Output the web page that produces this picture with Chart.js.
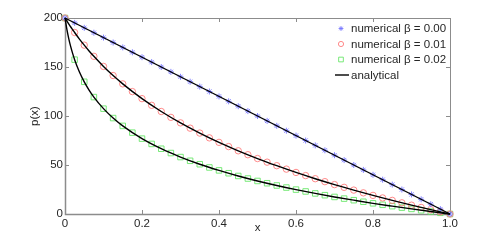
<!DOCTYPE html>
<html>
<head>
<meta charset="utf-8">
<script src="https://cdn.jsdelivr.net/npm/chart.js@4.4.1/dist/chart.umd.min.js"></script>
<style>
  html, body { margin: 0; padding: 0; background: #fff; }
  #wrap { width: 498px; height: 242px; }
</style>
</head>
<body>
<div id="wrap"><canvas id="chart"></canvas></div>
<script>
// numerical solution, x grid
const xNum = [0, 0.025, 0.05, 0.075, 0.1, 0.125, 0.15, 0.175, 0.2, 0.225, 0.25, 0.275, 0.3, 0.325, 0.35,
    0.375, 0.4, 0.425, 0.45, 0.475, 0.5, 0.525, 0.55, 0.575, 0.6, 0.625, 0.65, 0.675, 0.7, 0.725, 0.75,
    0.775, 0.8, 0.825, 0.85, 0.875, 0.9, 0.925, 0.95, 0.975, 1];
const numBeta000 = [200, 195, 190, 185, 180, 175, 170, 165, 160, 155, 150, 145, 140, 135, 130, 125, 120,
    115, 110, 105, 100, 95, 90, 85, 80, 75, 70, 65, 60, 55, 50, 45, 40, 35, 30, 25, 20, 15, 10, 5, 0];
const numBeta001 = [200, 185.2, 172.3, 160.9, 150.6, 141.3, 132.8, 124.9, 117.7, 110.9, 104.6, 98.6, 93.0,
    87.6, 82.6, 77.7, 73.1, 68.8, 64.5, 60.5, 56.6, 52.9, 49.3, 45.8, 42.4, 39.2, 36.0, 33.0, 30.0, 27.2,
    24.4, 21.6, 19.0, 16.4, 13.9, 11.4, 9.0, 6.7, 4.4, 2.2, 0];
const numBeta002 = [200, 157.5, 134.9, 119.3, 107.5, 97.9, 89.9, 83.0, 76.9, 71.5, 66.6, 62.2, 58.1, 54.3,
    50.8, 47.5, 44.5, 41.6, 38.8, 36.2, 33.7, 31.4, 29.1, 27.0, 24.9, 23.0, 21.0, 19.2, 17.4, 15.7, 14.1,
    12.5, 10.9, 9.4, 8.0, 6.5, 5.2, 3.8, 2.5, 1.2, 0];

// analytical curves (denser near x = 0)
const xAnaLin = [0, 1];
const anaBeta000 = [200, 0];
const xAna = [0, 0.005, 0.01, 0.015, 0.02, 0.025, 0.0375, 0.05, 0.0625, 0.075, 0.1, 0.125, 0.15, 0.2, 0.25,
    0.3, 0.35, 0.4, 0.45, 0.5, 0.55, 0.6, 0.65, 0.7, 0.75, 0.8, 0.85, 0.9, 0.95, 1];
const anaBeta001 = [200, 196.9, 193.8, 190.8, 188.0, 185.2, 178.5, 172.3, 166.4, 160.9, 150.6, 141.3, 132.8,
    117.7, 104.6, 93.0, 82.6, 73.1, 64.5, 56.6, 49.3, 42.4, 36.0, 30.0, 24.4, 19.0, 13.9, 9.0, 4.4, 0];
const anaBeta002 = [200, 188.1, 178.5, 170.5, 163.6, 157.5, 144.9, 134.9, 126.5, 119.3, 107.5, 97.9, 89.9,
    76.9, 66.6, 58.1, 50.8, 44.5, 38.8, 33.7, 29.1, 24.9, 21.0, 17.4, 14.1, 10.9, 8.0, 5.2, 2.5, 0];

const xTicks = [0, 0.2, 0.4, 0.6, 0.8, 1];
const yTicks = [0, 50, 100, 150, 200];

const FONT = "'Liberation Sans', Arial, Helvetica, sans-serif";
const TEXT = '#262626';
const AXIS = '#8c8c8c';

function toPoints(xs, ys) {
    return xs.map((x, i) => ({ x: x, y: ys[i] }));
}

function numerical(label, ys, style, color, radius) {
    return {
        label: label,
        data: toPoints(xNum, ys),
        showLine: false,
        pointStyle: style,
        pointRadius: radius,
        pointBorderColor: color,
        pointBackgroundColor: 'rgba(0,0,0,0)',
        pointBorderWidth: 0.9,
        clip: false,
        order: 2
    };
}

function analytical(xs, ys) {
    return {
        label: 'analytical',
        data: toPoints(xs, ys),
        showLine: true,
        borderColor: '#000',
        borderWidth: 1.4,
        pointRadius: 0,
        cubicInterpolationMode: 'monotone',
        clip: false,
        order: 1
    };
}

// box around the plot with inward ticks (matlab style)
const boxPlugin = {
    id: 'box',
    beforeDatasetsDraw(chart) {
        const { ctx, chartArea: a, scales } = chart;
        ctx.save();
        ctx.strokeStyle = AXIS;
        ctx.lineWidth = 1;
        ctx.strokeRect(a.left + 0.5, a.top + 0.5, a.right - a.left, a.bottom - a.top);
        ctx.lineWidth = 1.5;
        ctx.beginPath();
        ctx.moveTo(a.left + 0.5, a.top);
        ctx.lineTo(a.left + 0.5, a.bottom + 0.5);
        ctx.lineTo(a.right + 0.5, a.bottom + 0.5);
        ctx.stroke();
        ctx.lineWidth = 1;
        ctx.beginPath();
        xTicks.forEach(v => {
            const px = Math.round(scales.x.getPixelForValue(v)) + 0.5;
            ctx.moveTo(px, a.bottom); ctx.lineTo(px, a.bottom - 4);
            ctx.moveTo(px, a.top); ctx.lineTo(px, a.top + 4);
        });
        yTicks.forEach(v => {
            const py = Math.round(scales.y.getPixelForValue(v)) + 0.5;
            ctx.moveTo(a.left, py); ctx.lineTo(a.left + 4, py);
            ctx.moveTo(a.right, py); ctx.lineTo(a.right - 4, py);
        });
        ctx.stroke();
        ctx.restore();
    }
};

// legend inside the plot, top right
const legendPlugin = {
    id: 'innerLegend',
    afterDatasetsDraw(chart) {
        const { ctx } = chart;
        const ds = chart.data.datasets;
        const rows = [ds[0], ds[1], ds[2], ds[3]];
        ctx.save();
        ctx.font = '11.5px ' + FONT;
        ctx.textBaseline = 'middle';
        ctx.textAlign = 'left';
        rows.forEach((d, i) => {
            const y = 28.5 + i * 15.5;
            if (d.showLine) {
                ctx.strokeStyle = '#000';
                ctx.lineWidth = 1.4;
                ctx.beginPath();
                ctx.moveTo(335, y);
                ctx.lineTo(349, y);
                ctx.stroke();
            } else {
                ctx.strokeStyle = d.pointBorderColor;
                ctx.fillStyle = 'rgba(0,0,0,0)';
                ctx.lineWidth = d.pointBorderWidth;
                Chart.helpers.drawPoint(ctx, { pointStyle: d.pointStyle, radius: d.pointRadius - 0.6, borderWidth: d.pointBorderWidth }, 341, y);
            }
            ctx.fillStyle = TEXT;
            ctx.fillText(d.label, 351, y + 0.5);
        });
        ctx.restore();
    }
};

const ctx = document.getElementById('chart').getContext('2d');
new Chart(ctx, {
    type: 'scatter',
    data: {
        datasets: [
            numerical('numerical \u03b2 = 0.00', numBeta000, 'star', 'rgb(120,120,255)', 3),
            numerical('numerical \u03b2 = 0.01', numBeta001, 'circle', 'rgb(255,125,125)', 3.2),
            numerical('numerical \u03b2 = 0.02', numBeta002, 'rect', 'rgb(105,230,105)', 3.9)
            ,
            analytical(xAnaLin, anaBeta000),
            analytical(xAna, anaBeta001),
            analytical(xAna, anaBeta002)
        ]
    },
    options: {
        responsive: true,
        maintainAspectRatio: false,
        animation: false,
        layout: { padding: { left: 0, right: 48, top: 18, bottom: 0 } },
        plugins: {
            legend: { display: false },
            tooltip: { enabled: false }
        },
        scales: {
            x: {
                type: 'linear',
                min: 0,
                max: 1,
                grid: { display: false, drawTicks: false },
                border: { display: false },
                afterBuildTicks: s => { s.ticks = xTicks.map(v => ({ value: v })); },
                afterFit: s => { s.height = 28; },
                ticks: {
                    color: TEXT,
                    font: { family: FONT, size: 11.5 },
                    padding: 3,
                    maxRotation: 0,
                    autoSkip: false
                },
                title: {
                    display: true,
                    text: 'x',
                    color: TEXT,
                    font: { family: FONT, size: 11.5 },
                    padding: { top: 0, bottom: 7 }
                }
            },
            y: {
                min: 0,
                max: 200,
                grid: { display: false, drawTicks: false },
                border: { display: false },
                afterBuildTicks: s => { s.ticks = yTicks.map(v => ({ value: v })); },
                afterFit: s => { s.width = 65; },
                ticks: {
                    color: TEXT,
                    font: { family: FONT, size: 11.5 },
                    padding: 2
                },
                title: {
                    display: true,
                    text: 'p(x)',
                    color: TEXT,
                    font: { family: FONT, size: 11.5 },
                    padding: { top: 28, bottom: 0 }
                }
            }
        }
    },
    plugins: [boxPlugin, legendPlugin]
});
</script>
</body>
</html>
